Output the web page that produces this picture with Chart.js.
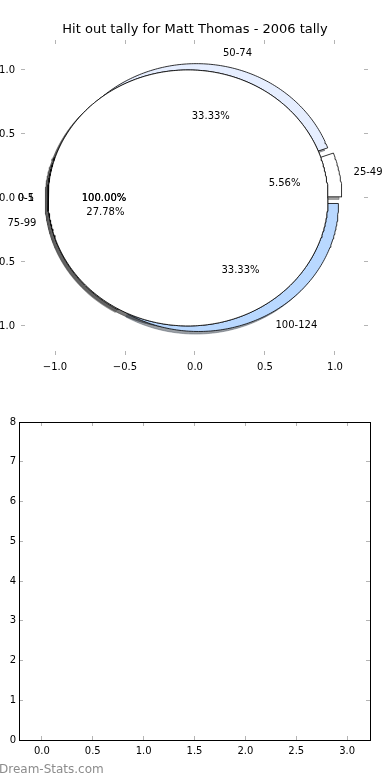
<!DOCTYPE html>
<html lang="en">
<head>
<meta charset="UTF-8">
<title>Hit out tally for Matt Thomas - 2006 tally</title>
<script src="https://cdn.jsdelivr.net/npm/chart.js"></script>
<style>
    body {
        margin: 0;
        background: #ffffff;
        width: 390px;
        height: 780px;
        position: relative;
        overflow: hidden;
        font-family: 'DejaVu Sans', sans-serif;
    }
    #pieChart { position: absolute; left: 0; top: 0; }
    #emptyChart { position: absolute; left: 0; top: 390px; }
    .watermark {
        position: absolute;
        left: -1px;
        top: 762px;
        color: #8c8c8c;
        font: 12px 'DejaVu Sans', sans-serif;
    }
</style>
</head>
<body>
<canvas id="pieChart" width="390" height="390"></canvas>
<canvas id="emptyChart" width="390" height="390"></canvas>
<div class="watermark">Dream-Stats.com</div>

<script>
// tally bands and how many games fell in each
const tallyLabels = ['25-49', '50-74', '75-99', '100-124'];
const tallyCounts = [1, 6, 5, 6];
const tallyColors = ['#ffffff', '#e6eeff', '#ffffff', '#b9d8ff'];

// the two single-slice pies drawn over the top
const overlayLabels = ['0-1', '0-5'];
const overlayCounts = [1, 1];
const overlayColors = ['#ffffff', '#ffffff'];

const explode = 0.05;

// tick labels
const pieTicks = [-1, -0.5, 0, 0.5, 1];
const emptyXTicks = [0, 0.5, 1, 1.5, 2, 2.5, 3];
const emptyYTicks = [0, 1, 2, 3, 4, 5, 6, 7, 8];

const FONT = "'DejaVu Sans', sans-serif";
const TICK_GREY = '#b4b4b4';

function rad(d) { return d * Math.PI / 180; }

function shade(hex) {
    const n = parseInt(hex.slice(1), 16);
    const r = Math.round(((n >> 16) & 255) * 0.3);
    const g = Math.round(((n >> 8) & 255) * 0.3);
    const b = Math.round((n & 255) * 0.3);
    return 'rgba(' + r + ',' + g + ',' + b + ',0.5)';
}

function wedgePoints(cx, cy, a1, a2) {
    const full = a2 - a1 >= 359.999;
    const pts = full ? [] : [{ x: cx, y: cy }];
    const steps = Math.max(4, Math.ceil(a2 - a1));
    for (let i = 0; i <= steps; i++) {
        const a = rad(a1 + (a2 - a1) * i / steps);
        pts.push({ x: cx + Math.cos(a), y: cy + Math.sin(a) });
    }
    if (!full) pts.push({ x: cx, y: cy });
    return pts;
}

// build wedges for one pie (matplotlib style: start at 0deg, counter clockwise)
function buildPie(labels, counts, colors) {
    const total = counts.reduce((a, b) => a + b, 0);
    let start = 0;
    return counts.map((c, i) => {
        const frac = c / total;
        const a1 = start * 360, a2 = (start + frac) * 360;
        const mid = rad((a1 + a2) / 2);
        const cx = explode * Math.cos(mid), cy = explode * Math.sin(mid);
        start += frac;
        return { label: labels[i], pct: (frac * 100).toFixed(2) + '%', color: colors[i], a1, a2, mid, cx, cy };
    });
}

const tallyWedges = buildPie(tallyLabels, tallyCounts, tallyColors);
const overlayWedges = overlayLabels.map((l, i) =>
    buildPie([l], [overlayCounts[i]], [overlayColors[i]])[0]);

const datasets = [];
// overlay circles on top
overlayWedges.forEach(w => datasets.push({
    data: wedgePoints(w.cx, w.cy, w.a1, w.a2),
    backgroundColor: w.color, borderColor: '#000000', borderWidth: 0.8,
    fill: 'shape', order: 1
}));
tallyWedges.forEach(w => datasets.push({
    data: wedgePoints(w.cx, w.cy, w.a1, w.a2),
    backgroundColor: w.color, borderColor: '#000000', borderWidth: 0.8,
    fill: 'shape', order: 2
}));
// shadows under everything
tallyWedges.concat(overlayWedges).forEach(w => datasets.push({
    data: wedgePoints(w.cx - 0.02, w.cy - 0.02, w.a1, w.a2),
    backgroundColor: shade(w.color), borderColor: shade(w.color), borderWidth: 0.8,
    fill: 'shape', order: 3
}));

const fmt = v => v.toFixed(1).replace('-', '\u2212');

function tickScale(extra) {
    return Object.assign({
        type: 'linear',
        afterBuildTicks: s => { s.ticks = extra.values.map(v => ({ value: v })); },
        ticks: {
            display: extra.labels,
            color: '#000000',
            font: { family: FONT, size: 10 },
            padding: extra.padding || 0,
            callback: extra.format,
            maxRotation: 0,
            autoSkip: false
        },
        grid: { drawOnChartArea: false, tickLength: -4, tickColor: TICK_GREY, tickWidth: 1 },
        border: { display: extra.border, color: '#000000', width: 1 },
        afterFit: extra.fit
    }, extra.base);
}

const pieLabelsPlugin = {
    id: 'pieLabels',
    afterDatasetsDraw(chart) {
        const ctx = chart.ctx;
        const sx = chart.scales.x, sy = chart.scales.y;
        ctx.save();
        ctx.font = '10px ' + FONT;
        ctx.fillStyle = '#000000';
        ctx.textBaseline = 'middle';
        tallyWedges.concat(overlayWedges).forEach(w => {
            const lx = w.cx + 1.1 * Math.cos(w.mid), ly = w.cy + 1.1 * Math.sin(w.mid);
            ctx.textAlign = lx > 0 ? 'left' : 'right';
            ctx.fillText(w.label, sx.getPixelForValue(lx), sy.getPixelForValue(ly));
            const px = w.cx + 0.6 * Math.cos(w.mid), py = w.cy + 0.6 * Math.sin(w.mid);
            ctx.textAlign = 'center';
            ctx.fillText(w.pct, sx.getPixelForValue(px), sy.getPixelForValue(py));
        });
        ctx.restore();
    }
};

new Chart(document.getElementById('pieChart'), {
    type: 'line',
    data: { datasets: datasets },
    plugins: [pieLabelsPlugin],
    options: {
        responsive: false,
        devicePixelRatio: 1,
        animation: false,
        layout: { padding: 0 },
        elements: { point: { radius: 0, hoverRadius: 0 }, line: { tension: 0 } },
        plugins: {
            legend: { display: false },
            tooltip: { enabled: false },
            title: {
                display: true,
                text: 'Hit out tally for Matt Thomas - 2006 tally',
                color: '#000000',
                font: { family: FONT, size: 13, weight: 'normal' },
                padding: { top: 22, bottom: 0 }
            }
        },
        scales: {
            x: tickScale({ values: pieTicks, labels: true, padding: 10, format: fmt, border: false,
                base: { position: 'bottom', min: -1.243, max: 1.236 }, fit: s => { s.height = 35; } }),
            xTop: tickScale({ values: pieTicks, labels: false, border: false,
                base: { position: 'top', min: -1.243, max: 1.236 }, fit: s => { s.height = 2.4; } }),
            y: tickScale({ values: pieTicks, labels: true, padding: 10, format: fmt, border: false,
                base: { position: 'left', min: -1.227, max: 1.234 }, fit: s => { s.width = 21; } }),
            yRight: tickScale({ values: pieTicks, labels: false, border: false,
                base: { position: 'right', min: -1.227, max: 1.234 }, fit: s => { s.width = 22; } })
        }
    }
});

new Chart(document.getElementById('emptyChart'), {
    type: 'line',
    data: { datasets: [] },
    options: {
        responsive: false,
        devicePixelRatio: 1,
        animation: false,
        layout: { padding: 0 },
        plugins: { legend: { display: false }, tooltip: { enabled: false } },
        scales: {
            x: tickScale({ values: emptyXTicks, labels: true, padding: 9, format: v => v.toFixed(1), border: true,
                base: { position: 'bottom', min: -0.225, max: 3.225 }, fit: s => { s.height = 40; } }),
            xTop: tickScale({ values: emptyXTicks, labels: false, border: true,
                base: { position: 'top', min: -0.225, max: 3.225 }, fit: s => { s.height = 32; } }),
            y: tickScale({ values: emptyYTicks, labels: true, padding: 7, format: v => String(v), border: true,
                base: { position: 'left', min: 0, max: 8 }, fit: s => { s.width = 19; } }),
            yRight: tickScale({ values: emptyYTicks, labels: false, border: true,
                base: { position: 'right', min: 0, max: 8 }, fit: s => { s.width = 20; } })
        }
    }
});
</script>
</body>
</html>
